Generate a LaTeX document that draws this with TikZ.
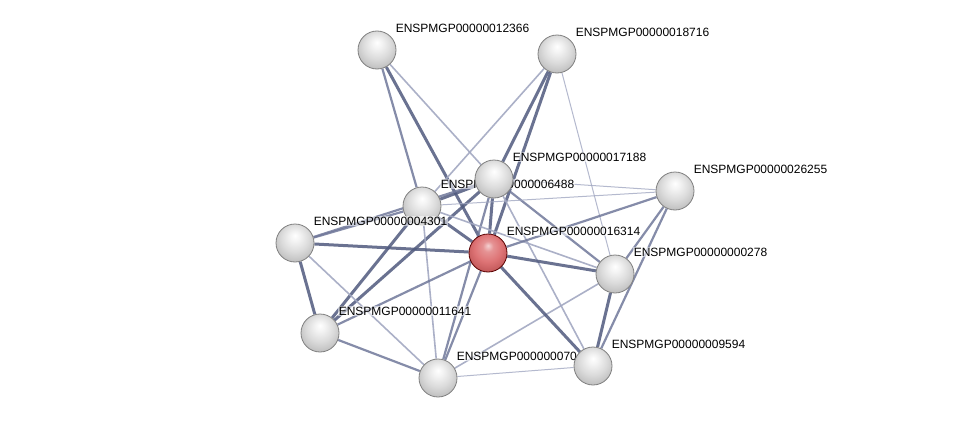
\documentclass[tikz,border=0pt]{standalone}
\usepackage{xcolor}
\usepackage{tikz}
\usepackage{fontspec}
\setmainfont{Liberation Sans}
\usetikzlibrary{positioning, backgrounds}

\definecolor{edgedark}{RGB}{80,90,126}
\definecolor{edgemid}{RGB}{112,120,154}
\definecolor{edgelight}{RGB}{162,168,194}
\definecolor{protred}{RGB}{218,100,102}

\pgfdeclareradialshading{protball}{\pgfpoint{0bp}{10bp}}{%
  color(0bp)=(white); color(7bp)=(white!95!black); color(18bp)=(white!86!black);
  color(28bp)=(white!76!black); color(35bp)=(white!60!black); color(50bp)=(white!50!black)}
\pgfdeclareradialshading{queryball}{\pgfpoint{0bp}{10bp}}{%
  color(0bp)=(protred!30!white); color(7bp)=(protred!70!white); color(18bp)=(protred!90!white);
  color(28bp)=(protred!90!black); color(35bp)=(protred!72!black); color(50bp)=(protred!55!black)}

\begin{document}
\begin{tikzpicture}[
    x=1pt, y=-1pt,
    prot/.style={circle, minimum size=38pt, inner sep=0pt, draw=black!50, line width=0.8pt, shading=protball},
    query/.style={prot, draw=red!35!black, shading=queryball},
    lbl/.style={anchor=west, font=\fontsize{12}{13.5}\selectfont, fill=white, fill opacity=0.55, text opacity=1, inner sep=0.6pt, xshift=18pt, yshift=22pt},
    strong/.style={edgedark, line width=3pt, opacity=0.85},
    medium/.style={edgemid, line width=2.2pt, opacity=0.85},
    weak/.style={edgelight, line width=1.6pt, opacity=0.9},
    faint/.style={edgelight, line width=1pt, opacity=0.8}
]
    \useasboundingbox (0,0) rectangle (975,423);

    % Proteins with their labels (later nodes cover earlier labels)
    \node[prot] (p6488) at (422,206) {};
    \node[lbl] (l6488) at (p6488.center) {ENSPMGP00000006488};
    \node[prot] (p4301) at (295,243) {};
    \node[lbl] (l4301) at (p4301.center) {ENSPMGP00000004301};
    \node[prot] (p17188) at (494,179) {};
    \node[lbl] (l17188) at (p17188.center) {ENSPMGP00000017188};
    \node[prot] (p70) at (438,378) {};
    \node[lbl] (l70) at (p70.center) {ENSPMGP000000070};
    \node[prot] (p9594) at (593,366) {};
    \node[lbl] (l9594) at (p9594.center) {ENSPMGP00000009594};
    \node[prot] (p12366) at (377,50) {};
    \node[lbl] (l12366) at (p12366.center) {ENSPMGP00000012366};
    \node[prot] (p18716) at (557,54) {};
    \node[lbl] (l18716) at (p18716.center) {ENSPMGP00000018716};
    \node[prot] (p26255) at (675,191) {};
    \node[lbl] (l26255) at (p26255.center) {ENSPMGP00000026255};
    \node[prot] (p278) at (615,274) {};
    \node[lbl] (l278) at (p278.center) {ENSPMGP00000000278};
    \node[prot] (p11641) at (320,333) {};
    \node[lbl] (l11641) at (p11641.center) {ENSPMGP00000011641};
    \node[query] (p16314) at (488,253) {};
    \node[lbl] (l16314) at (p16314.center) {ENSPMGP00000016314};

    % Interactions
    \begin{pgfonlayer}{background}
    \fill[white] (0,0) rectangle (975,423);
    \draw[medium] (p12366) -- (p6488);
    \draw[strong] (p12366) -- (p16314);
    \draw[weak] (p12366) -- (p17188);
    \draw[weak] (p18716) -- (p6488);
    \draw[strong] (p18716) -- (p17188);
    \draw[strong] (p18716) -- (p16314);
    \draw[faint] (p18716) -- (p278);
    \draw[strong] (p17188) -- (p6488);
    \draw[strong] (p17188) -- (p16314);
    \draw[faint] (p17188) -- (p26255);
    \draw[medium] (p17188) -- (p278);
    \draw[weak] (p17188) -- (p9594);
    \draw[strong] (p17188) -- (p11641);
    \draw[medium] (p17188) -- (p70);
    \draw[strong] (p6488) -- (p16314);
    \draw[faint] (p6488) -- (p26255);
    \draw[weak] (p6488) -- (p278);
    \draw[strong] (p6488) -- (p11641);
    \draw[weak] (p6488) -- (p70);
    \draw[medium] (p4301) -- (p6488);
    \draw[medium] (p4301) -- (p17188);
    \draw[strong] (p4301) -- (p16314);
    \draw[strong] (p4301) -- (p11641);
    \draw[weak] (p4301) -- (p70);
    \draw[medium] (p26255) -- (p16314);
    \draw[medium] (p26255) -- (p278);
    \draw[medium] (p26255) -- (p9594);
    \draw[strong] (p278) -- (p9594);
    \draw[strong] (p278) -- (p16314);
    \draw[weak] (p278) -- (p70);
    \draw[strong] (p9594) -- (p16314);
    \draw[faint] (p9594) -- (p70);
    \draw[medium] (p70) -- (p16314);
    \draw[medium] (p11641) -- (p70);
    \draw[medium] (p11641) -- (p16314);
    \end{pgfonlayer}
\end{tikzpicture}
\end{document}
